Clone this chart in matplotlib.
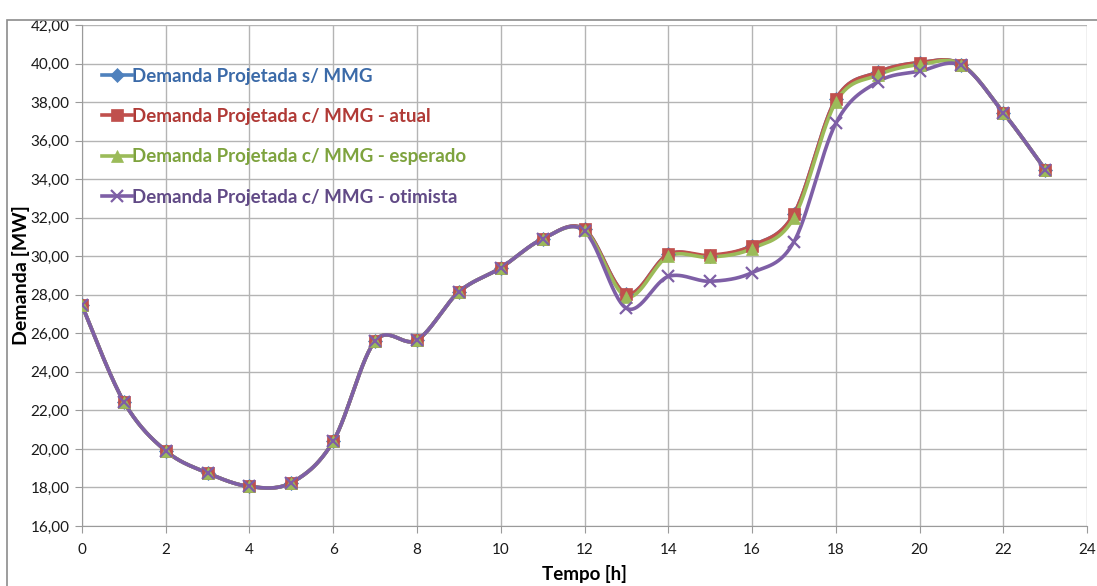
import numpy as np
import matplotlib
matplotlib.use("Agg")
import matplotlib.pyplot as plt
from matplotlib.patches import Rectangle
from matplotlib.ticker import FuncFormatter, MultipleLocator

hours = list(range(24))

demanda_sem_mmg = [27.45, 22.45, 19.9, 18.75, 18.05, 18.25, 20.4, 25.6, 25.65, 28.15,
                   29.4, 30.9, 31.4, 28.05, 30.1, 30.0, 30.55, 32.2, 38.15, 39.55,
                   40.05, 39.95, 37.45, 34.5]
demanda_mmg_atual = [27.45, 22.45, 19.9, 18.75, 18.05, 18.25, 20.4, 25.6, 25.65, 28.15,
                     29.4, 30.9, 31.4, 28.05, 30.1, 30.05, 30.55, 32.2, 38.15, 39.55,
                     40.05, 39.95, 37.45, 34.5]
demanda_mmg_esperado = [27.45, 22.45, 19.9, 18.75, 18.05, 18.25, 20.4, 25.6, 25.65, 28.15,
                        29.4, 30.9, 31.35, 27.9, 30.0, 29.95, 30.4, 32.0, 38.0, 39.4,
                        39.95, 39.95, 37.45, 34.5]
demanda_mmg_otimista = [27.45, 22.45, 19.9, 18.75, 18.05, 18.25, 20.4, 25.6, 25.65, 28.15,
                        29.4, 30.9, 31.3, 27.3, 28.95, 28.7, 29.15, 30.75, 36.9, 39.05,
                        39.6, 39.9, 37.45, 34.5]

labels = ["Demanda Projetada s/ MMG",
          "Demanda Projetada c/ MMG - atual",
          "Demanda Projetada c/ MMG - esperado",
          "Demanda Projetada c/ MMG - otimista"]
colors = ["#4F81BD", "#C0504D", "#9BBB59", "#7E5FA6"]
text_colors = ["#3B6AA8", "#B03A36", "#7EA33E", "#614A86"]
markers = ["D", "s", "^", "x"]
msizes = [7, 9, 9, 9]


def smooth(x, y, n=30):
    """Cubic Bezier smoothing through every point (Catmull-Rom style)."""
    x = np.asarray(x, float)
    y = np.asarray(y, float)
    pts = np.column_stack([x, y])
    out = []
    for i in range(len(pts) - 1):
        p0 = pts[i - 1] if i > 0 else pts[i]
        p1 = pts[i]
        p2 = pts[i + 1]
        p3 = pts[i + 2] if i + 2 < len(pts) else pts[i + 1]
        c1 = p1 + (p2 - p0) / 6.0
        c2 = p2 - (p3 - p1) / 6.0
        t = np.linspace(0, 1, n, endpoint=False)[:, None]
        seg = ((1 - t) ** 3) * p1 + 3 * ((1 - t) ** 2) * t * c1 + 3 * (1 - t) * t ** 2 * c2 + t ** 3 * p2
        out.append(seg)
    out.append(pts[-1:])
    out = np.vstack(out)
    return out[:, 0], out[:, 1]


plt.rcParams["font.family"] = ["Lato", "DejaVu Sans"]

fig = plt.figure(figsize=(10.97, 5.86), dpi=100)
ax = fig.add_axes([0.0747, 0.1024, 0.9163, 0.8549])

series = [demanda_sem_mmg, demanda_mmg_atual, demanda_mmg_esperado, demanda_mmg_otimista]
handles = []
for vals, c, m, ms, lab in zip(series, colors, markers, msizes, labels):
    sx, sy = smooth(hours, vals)
    ax.plot(sx, sy, color=c, lw=2.6, solid_capstyle="round", zorder=3)
    mew = 1.6 if m == "x" else 0.5
    ax.plot(hours, vals, linestyle="none", marker=m, ms=ms, color=c,
            markeredgecolor=c, markeredgewidth=mew, zorder=4)
    h, = ax.plot([], [], color=c, lw=2.6, marker=m, ms=ms, markeredgewidth=mew,
                 markeredgecolor=c, label=lab)
    handles.append(h)

ax.set_xlim(0, 24)
ax.set_ylim(16, 42)
ax.xaxis.set_major_locator(MultipleLocator(2))
ax.yaxis.set_major_locator(MultipleLocator(2))
ax.yaxis.set_major_formatter(FuncFormatter(lambda v, p: f"{v:.2f}".replace(".", ",")))
ax.grid(True, color="#B4B4B4", lw=1.0)
ax.set_axisbelow(True)
for s in ["top", "right"]:
    ax.spines[s].set_visible(False)
for s in ["left", "bottom"]:
    ax.spines[s].set_color("#9A9A9A")
ax.tick_params(direction="out", length=5, color="#9A9A9A", labelsize=11,
               labelcolor="#1A1A1A")
ax.tick_params(axis="y", pad=4)
ax.tick_params(axis="x", pad=7)

ax.set_xlabel("Tempo [h]", fontsize=13.5, fontweight="bold", labelpad=6)
fig.text(21 / 1097, 1 - 275 / 586, "Demanda [MW]", rotation=90, fontsize=14,
         fontweight="bold", ha="center", va="center")

leg = ax.legend(handles=handles, loc="upper left", bbox_to_anchor=(0.012, 0.93),
                frameon=False, fontsize=13.5, handlelength=1.6, handletextpad=0.0,
                labelspacing=1.25, borderaxespad=0)
for txt, tc in zip(leg.get_texts(), text_colors):
    txt.set_color(tc)
    txt.set_fontweight("bold")

fig.patches.append(Rectangle((7 / 1097, -0.05), 1.2, 1 - 20 / 586 + 0.05,
                             transform=fig.transFigure, fill=False,
                             edgecolor="#8C8C8C", lw=1.2, zorder=0))

fig.savefig("out.png", dpi=100)
